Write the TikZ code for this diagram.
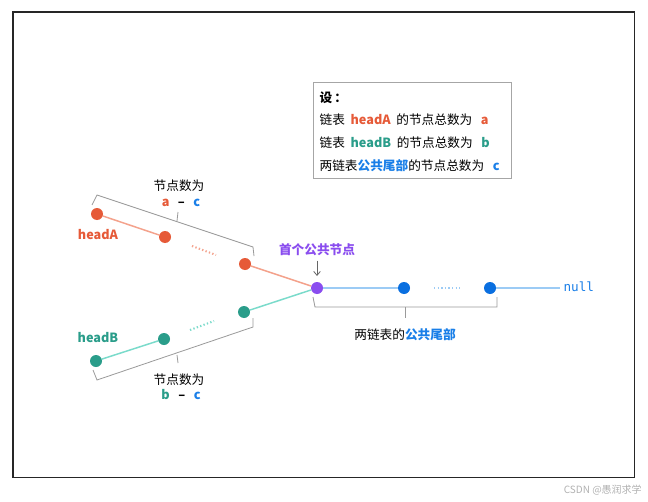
\documentclass[tikz,border=0pt]{standalone}
\usepackage{fontspec}
\setmainfont{Noto Sans CJK SC}
\newfontfamily\monofont{DejaVu Sans Mono}
\usetikzlibrary{arrows.meta}
\definecolor{cA}{HTML}{E65A38}
\definecolor{lA}{HTML}{F4A28C}
\definecolor{cB}{HTML}{2A9D8A}
\definecolor{lB}{HTML}{7ADBCB}
\definecolor{cP}{HTML}{8A4DEF}
\definecolor{cC}{HTML}{0A6FE0}
\definecolor{lC}{HTML}{9CCBF5}
\definecolor{tC}{HTML}{1A7FE8}
\definecolor{brc}{HTML}{9A9A9A}
\tikzset{
  dotA/.style={circle,fill=cA,inner sep=0pt,minimum size=9pt},
  dotB/.style={circle,fill=cB,inner sep=0pt,minimum size=9pt},
  dotC/.style={circle,fill=cC,inner sep=0pt,minimum size=9pt},
  dotP/.style={circle,fill=cP,inner sep=0pt,minimum size=9pt},
  lbl/.style={font=\fontsize{9.5}{11}\selectfont,inner sep=1pt},
  blbl/.style={font=\bfseries\fontsize{9.5}{11}\selectfont,inner sep=1pt},
  brace/.style={draw=brc,line width=0.6pt},
  edge/.style={line width=1.1pt},
  dots/.style={line width=1.5pt,dash pattern=on 1pt off 1.7pt}
}
\begin{document}
\begin{tikzpicture}[x=0.75pt,y=-0.75pt]
\useasboundingbox (0,0) rectangle (648,502);
\fill[white] (0,0) rectangle (648,502);
\draw[line width=1.1pt,black!85] (13,12) rectangle (634.5,477.5);
% legend box
\node[draw=black!35,line width=0.6pt,minimum width=148.5pt,minimum height=72pt,anchor=north west] (box) at (313,82) {};
\node[lbl,anchor=west] (t0) at (318,98) {\bfseries 设\,：};
\node[lbl,anchor=west] (t1) at (318,120) {链表\ \ \textcolor{cA}{\bfseries headA}\ \ 的节点总数为\ \ \ \textcolor{cA}{\bfseries a}};
\node[lbl,anchor=west] (t2) at (318,143) {链表\ \ \textcolor{cB}{\bfseries headB}\ \ 的节点总数为\ \ \ \textcolor{cB}{\bfseries b}};
\node[lbl,anchor=west] (t3) at (318,166) {两链表\textcolor{tC}{\bfseries 公共尾部}的节点总数为\ \ \ \textcolor{tC}{\bfseries c}};
% nodes
\node[dotA] (a1) at (97,214) {};
\node[dotA] (a2) at (165,237) {};
\node[dotA] (a3) at (245,264) {};
\node[dotB] (b1) at (96,361) {};
\node[dotB] (b2) at (164,339) {};
\node[dotB] (b3) at (244,312) {};
\node[dotP] (p) at (317,288) {};
\node[dotC] (c1) at (404,288) {};
\node[dotC] (c2) at (490,288) {};
\coordinate (n0) at (560,288);
\node[lbl,anchor=west,text=tC,font=\monofont\fontsize{9.5}{11}\selectfont] (null) at (562,287) {null};
% edges
\draw[lA,edge] (a1) -- (a2);
\draw[lA,edge] (a3) -- (p);
\draw[lB,edge] (b1) -- (b2);
\draw[lB,edge] (b3) -- (p);
\draw[lC,edge] (p) -- (c1);
\draw[lC,edge] (c2) -- (n0);
% dotted parts
\coordinate (da1) at (192,246); \coordinate (da2) at (216,255);
\draw[lA,dots] (da1) -- (da2);
\coordinate (db1) at (190,330); \coordinate (db2) at (214,321);
\draw[lB,dots] (db1) -- (db2);
\coordinate (dc1) at (434,288); \coordinate (dc2) at (460,288);
\draw[lC,dots] (dc1) -- (dc2);
% labels
\node[blbl,text=cA] (la) at (98,235) {headA};
\node[blbl,text=cB] (lb) at (98,338) {headB};
\node[blbl,text=cP] (lp) at (317,250) {首个公共节点};
\draw[black!60,line width=0.6pt,-{Straight Barb[length=3pt,width=5pt]}] (lp.south) ++(0,3) -- (317,276);
% braces
\draw[brace] (92,205) -- (97,195) -- (253,247) -- (254,256);
\draw[brace] (177,221) -- (178,212);
\node[lbl] (ta1) at (179,186) {节点数为};
\node[lbl] (ta2) at (181,203) {\textcolor{cA}{\bfseries a}\ \ \ \textbf{–}\ \ \ \textcolor{tC}{\bfseries c}};
\draw[brace] (93,370) -- (97,380) -- (253,327) -- (253,318);
\draw[brace] (177,355) -- (178,363);
\node[lbl] (tb1) at (179,380) {节点数为};
\node[lbl] (tb2) at (181,395) {\textcolor{cB}{\bfseries b}\ \ \ \textbf{–}\ \ \ \textcolor{tC}{\bfseries c}};
\draw[brace] (313,297) -- (315,307) -- (497,307) -- (497,297);
\draw[brace] (405,307) -- (405,318);
\node[lbl] (tc) at (405,335) {两链表的\textcolor{tC}{\bfseries 公共尾部}};
% watermark
\node[text=black!30,font=\fontsize{7.5}{9}\selectfont,anchor=east,inner sep=0pt] (wm) at (642,490) {CSDN @愚润求学};
\end{tikzpicture}
\end{document}
